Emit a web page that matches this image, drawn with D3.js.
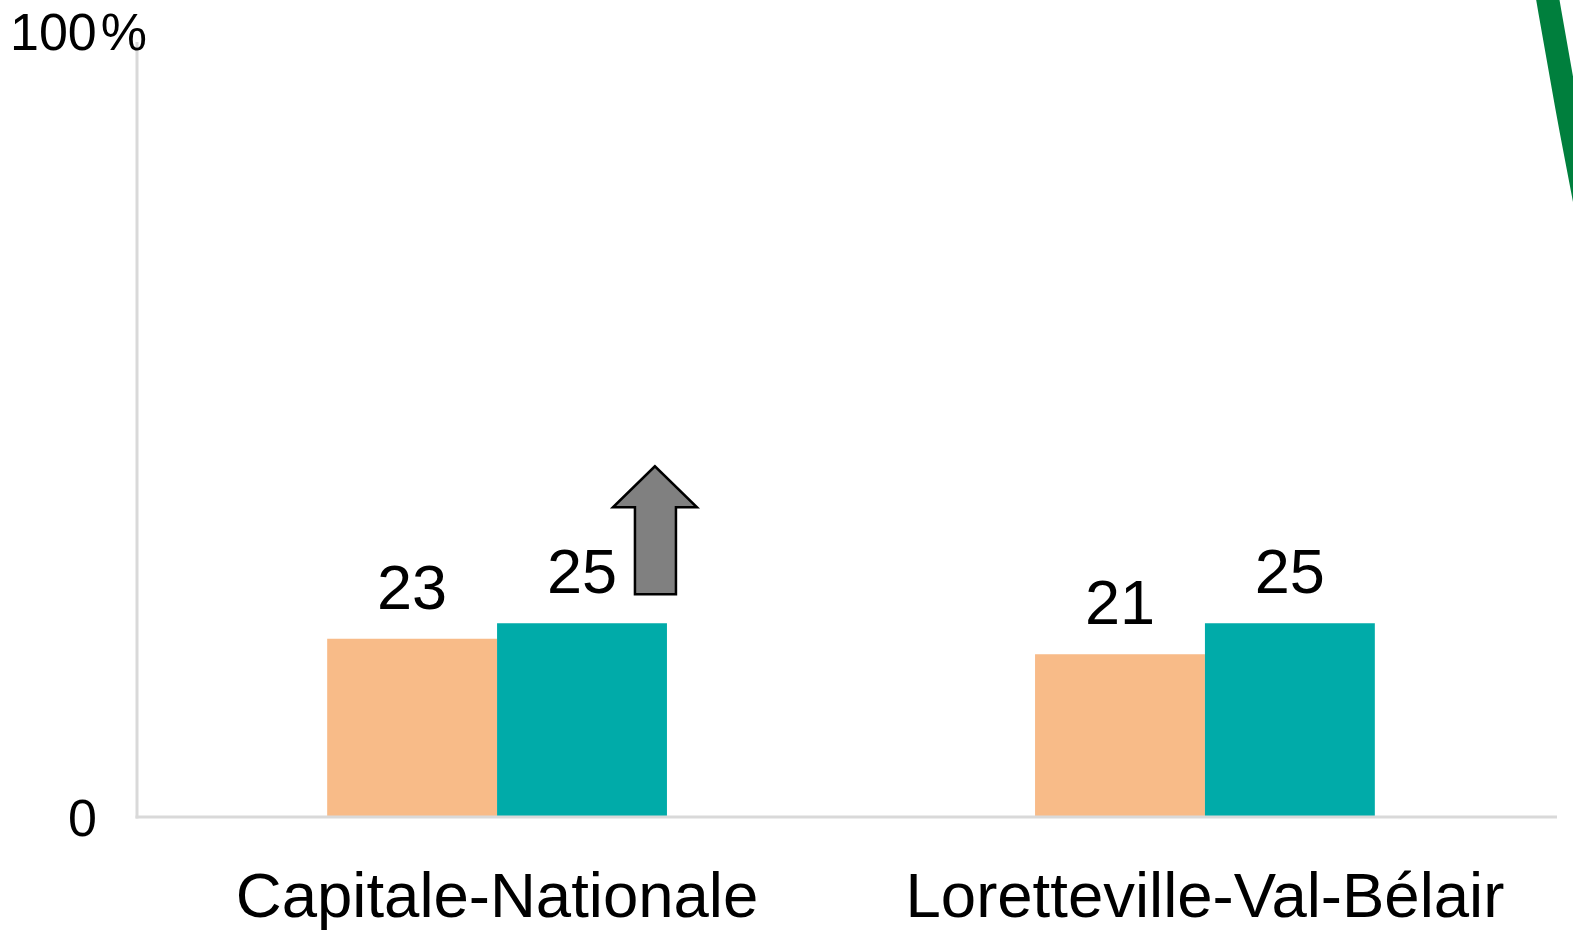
<!DOCTYPE html>
<html lang="fr">
<head>
<meta charset="utf-8">
<script src="https://cdn.jsdelivr.net/npm/d3@7"></script>
<style>
  html, body { margin: 0; padding: 0; background: #ffffff; }
  svg { display: block; font-family: "Liberation Sans", Arial, sans-serif; }
</style>
</head>
<body>
<svg id="chart" width="1573" height="932"></svg>
<script>
// Territories compared
const categories = ["Capitale-Nationale", "Loretteville-Val-Bélair"];
// Two survey periods per territory (percent)
const seriesKeys = ["avant", "apres"];
const valuesAvant = [23, 21];
const valuesApres = [25, 25];
const seriesColors = ["#F8BB88", "#00ABA9"];
// Y axis tick labels (value, unit)
const yTicks = [0, 100];
const yTickLabels = ["0", "100"];
const yUnit = "%";

const rows = categories.map((c, i) => ({ cat: c, avant: valuesAvant[i], apres: valuesApres[i] }));

const svg = d3.select("#chart");
const plotLeft = 137, plotRight = 1557, plotTop = 42, plotBottom = 817;

const x0 = d3.scaleBand().domain(categories).range([plotLeft + 4, plotRight + 4])
  .paddingInner(0.52).paddingOuter(0.263);
const x1 = d3.scaleBand().domain(seriesKeys).range([0, x0.bandwidth()]).padding(0);
const y = d3.scaleLinear().domain([0, 100]).range([plotBottom, plotTop]);
const color = d3.scaleOrdinal().domain(seriesKeys).range(seriesColors);

// Bars
const groups = svg.append("g").selectAll("g").data(rows).join("g")
  .attr("transform", d => `translate(${x0(d.cat)},0)`);

groups.selectAll("rect").data(d => seriesKeys.map(k => ({ key: k, value: d[k] })))
  .join("rect")
  .attr("x", d => x1(d.key))
  .attr("y", d => y(d.value))
  .attr("width", x1.bandwidth())
  .attr("height", d => y(0) - y(d.value))
  .attr("fill", d => color(d.key));

// Value labels
groups.selectAll("text").data(d => seriesKeys.map(k => ({ key: k, value: d[k] })))
  .join("text")
  .attr("x", d => x1(d.key) + x1.bandwidth() / 2)
  .attr("y", d => y(d.value) - 30)
  .attr("text-anchor", "middle")
  .attr("font-size", 63)
  .attr("fill", "#000")
  .text(d => d.value);

// Axis lines
const axisColor = "#D9D9D9";
svg.append("line").attr("x1", plotLeft).attr("x2", plotLeft).attr("y1", y(100)).attr("y2", y(0) + 1.5)
  .attr("stroke", axisColor).attr("stroke-width", 3);
svg.append("line").attr("x1", plotLeft - 1.5).attr("x2", plotRight).attr("y1", y(0)).attr("y2", y(0))
  .attr("stroke", axisColor).attr("stroke-width", 3);

// Y tick labels
svg.append("text").attr("x", 97).attr("y", y(yTicks[0]) + 19)
  .attr("text-anchor", "end").attr("font-size", 52).text(yTickLabels[0]);
const topLabel = svg.append("text").attr("x", 147).attr("y", y(yTicks[1]) + 8)
  .attr("text-anchor", "end").attr("font-size", 52);
topLabel.append("tspan").text(yTickLabels[1]);
topLabel.append("tspan").attr("dx", 4).text(yUnit);

// Category labels
svg.append("g").selectAll("text").data(categories).join("text")
  .attr("x", d => x0(d) + x0.bandwidth() / 2)
  .attr("y", 917)
  .attr("text-anchor", "middle")
  .attr("font-size", 63.5)
  .attr("fill", "#000")
  .text(d => d);

// Upward arrow beside the Capitale-Nationale increase
const ax = x0(categories[0]) + x1("apres") + x1.bandwidth();
const ay = y(valuesApres[0]);
const arrow = [
  [ax - 12, ay - 157],
  [ax - 54, ay - 116],
  [ax - 32, ay - 116],
  [ax - 32, ay - 29],
  [ax + 9, ay - 29],
  [ax + 9, ay - 116],
  [ax + 30, ay - 116]
];
svg.append("path")
  .attr("d", d3.line()(arrow) + "Z")
  .attr("fill", "#808080")
  .attr("stroke", "#000")
  .attr("stroke-width", 2.5)
  .attr("stroke-linejoin", "miter");

// Green accent stroke at the upper right edge
svg.append("path")
  .attr("d", d3.line().curve(d3.curveBasis)([[1547, -5], [1565, 100], [1592, 240]]))
  .attr("fill", "none")
  .attr("stroke", "#007F3D")
  .attr("stroke-width", 23);
</script>
</body>
</html>
